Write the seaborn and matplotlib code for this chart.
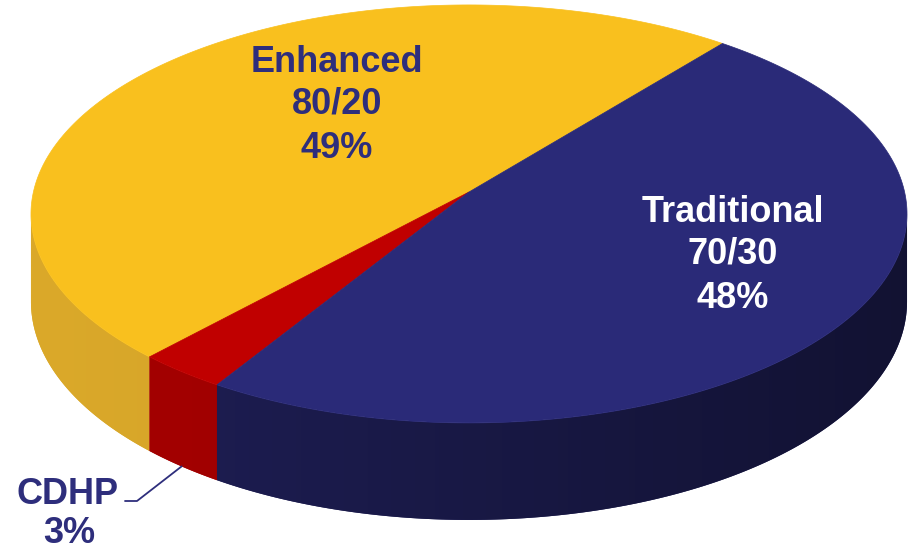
import numpy as np
import matplotlib.pyplot as plt
import matplotlib.colors as mcolors
from matplotlib.patches import Polygon
import seaborn as sns

# data (counter-clockwise from the start angle)
plans = ["Enhanced", "CDHP", "Traditional"]
splits = ["80/20", "", "70/30"]
shares = [49, 3, 48]

top_colors = sns.color_palette(["#F9C01E", "#C00000", "#2A2A78"])
side_colors = ["#DBA92A", "#A50000", "#1F1F57"]
side_dark = [0.9, 0.9, 0.58]   # how dark the right end of each side gets
text_colors = ["#2E2E7C", "#2E2E7C", "#FFFFFF"]

# 3d pie look (pixel space)
CX, CY = 469, 192          # projected centre of the pie
RX, RY = 435.6, 206.7      # radii before perspective
ECC = 0.105                # perspective strength
DEPTH = 86.8               # thickness
START = 51

sns.set_theme(style="white")
plt.rcParams["font.family"] = ["Liberation Sans", "DejaVu Sans"]


def proj(phi, drop=0.0):
    p = np.radians(phi)
    s = 1.0 / (1.0 + ECC * np.sin(p))
    return CX + RX * np.cos(p) * s, CY - RY * np.sin(p) * s + drop * s


fig = plt.figure(figsize=(9.14, 5.5), dpi=100)
ax = fig.add_axes([0, 0, 1, 1])
ax.set_xlim(0, 914)
ax.set_ylim(550, 0)
ax.axis("off")

fracs = np.array(shares) / sum(shares)
edges = START + 360 * np.concatenate([[0], np.cumsum(fracs)])

# visible side of the cylinder
lo = 180 + np.degrees(np.arcsin(ECC))
hi = 360 - np.degrees(np.arcsin(ECC))
xgrid = np.linspace(0, 914, 400)
t = np.clip((xgrid - (CX - RX)) / (2 * RX), 0, 1)

for i in range(len(shares)):
    a0, a1 = edges[i], edges[i + 1]
    for off in (0, 360):
        s0, s1 = max(a0, lo + off), min(a1, hi + off)
        if s1 <= s0:
            continue
        angs = np.linspace(s0, s1, 200)
        xt, yt = proj(angs)
        xb, yb = proj(angs[::-1], DEPTH)
        pts = list(zip(xt, yt)) + list(zip(xb, yb))
        base = np.array(mcolors.to_rgb(side_colors[i]))
        ax.add_patch(Polygon(pts, closed=True, facecolor=side_colors[i],
                             edgecolor="none"))
        shade = 1 - (1 - side_dark[i]) * t
        img = (base[None, :] * shade[:, None])[None, :, :]
        im = ax.imshow(img, extent=[0, 914, 550, 0], aspect="auto",
                       interpolation="bilinear", zorder=2)
        clip = Polygon(pts, closed=True, transform=ax.transData)
        im.set_clip_path(clip)

# top face
for i in range(len(shares)):
    angs = np.linspace(edges[i], edges[i + 1], 200)
    xs, ys = proj(angs)
    pts = [(CX, CY)] + list(zip(xs, ys))
    ax.add_patch(Polygon(pts, closed=True, facecolor=top_colors[i],
                         edgecolor=top_colors[i], lw=0.5, zorder=3))

ax.set_xlim(0, 914)
ax.set_ylim(550, 0)

# labels
kw = dict(fontsize=26, fontweight="bold", ha="center", va="baseline", zorder=5)
for txt, y in zip([plans[0], splits[0], f"{shares[0]}%"], [72, 113, 158]):
    ax.text(337, y, txt, color=text_colors[0], **kw)
for txt, y in zip([plans[2], splits[2], f"{shares[2]}%"], [222, 263, 308]):
    ax.text(733, y, txt, color=text_colors[2], **kw)
ax.text(68, 504, plans[1], color=text_colors[1], **kw)
ax.text(69, 543, f"{shares[1]}%", color=text_colors[1], **kw)

# leader line to the CDHP slice
mid = 0.5 * (edges[1] + edges[2])
ex, ey = proj(mid, DEPTH)
ax.plot([125, 137, ex], [501, 501, ey], color="#2E2E7C", lw=1.3, zorder=5)

fig.savefig("out.png", dpi=100)
